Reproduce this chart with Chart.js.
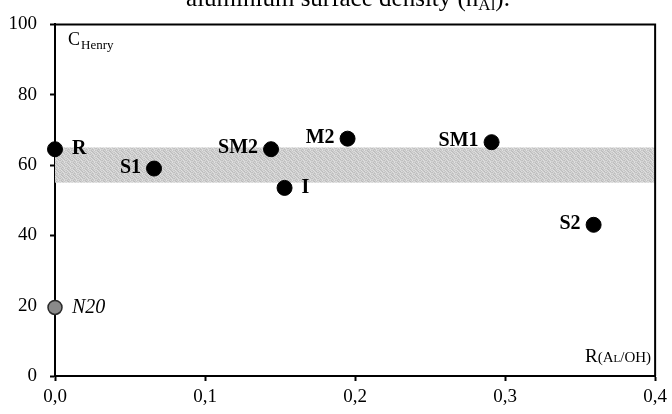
<!DOCTYPE html>
<html>
<head>
<meta charset="utf-8">
<script src="https://cdn.jsdelivr.net/npm/chart.js@4"></script>
<style>
  body { margin: 0; background: #fff; }
  canvas { display: block; }
</style>
</head>
<body>
<canvas id="myChart" width="672" height="414"></canvas>
<script>
// samples: Al/OH ratio against Henry constant
var names = ["R", "S1", "SM2", "I", "M2", "SM1", "S2"];
var ratio = [0, 0.066, 0.144, 0.153, 0.195, 0.291, 0.359];
var cHenry = [64.5, 59, 64.5, 53.5, 67.5, 66.5, 43];
var labelSide = ["right", "left", "left", "right", "left", "left", "left"];

// reference zeolite, drawn grey
var refName = ["N20"];
var refRatio = [0];
var refHenry = [19.5];

// shaded range of C_Henry
var bandRange = [55, 65];

var xTicks = [0, 0.1, 0.2, 0.3, 0.4];
var yTicks = [0, 20, 40, 60, 80, 100];

var serif = "'Liberation Serif', 'Times New Roman', serif";

var samplePoints = [];
for (var i = 0; i < names.length; i++) {
  samplePoints.push({ x: ratio[i], y: cHenry[i] });
}
var refPoints = [];
for (var j = 0; j < refName.length; j++) {
  refPoints.push({ x: refRatio[j], y: refHenry[j] });
}

// grainy grey fill for the band
function bandPattern(ctx) {
  var shades = [
    [205, 190, 215, 200, 225, 195],
    [220, 200, 185, 210, 200, 215],
    [195, 225, 205, 190, 215, 205],
    [210, 195, 220, 205, 185, 220],
    [190, 215, 200, 225, 205, 195],
    [215, 205, 190, 200, 220, 210],
  ];
  var c = document.createElement("canvas");
  c.width = 6;
  c.height = 6;
  var g = c.getContext("2d");
  for (var r = 0; r < 6; r++) {
    for (var k = 0; k < 6; k++) {
      var s = shades[r][k];
      g.fillStyle = "rgb(" + s + "," + s + "," + s + ")";
      g.fillRect(k, r, 1, 1);
    }
  }
  return ctx.createPattern(c, "repeat");
}

const bandPlugin = {
  id: "band",
  beforeDatasetsDraw(chart) {
    const ctx = chart.ctx;
    const xs = chart.scales.x;
    const ys = chart.scales.y;
    const top = ys.getPixelForValue(bandRange[1]);
    const bottom = ys.getPixelForValue(bandRange[0]);
    ctx.save();
    ctx.fillStyle = bandPattern(ctx);
    ctx.fillRect(xs.left, top, xs.right - xs.left, bottom - top);

    // top and right edges of the frame
    ctx.strokeStyle = "#000";
    ctx.lineWidth = 2;
    ctx.beginPath();
    ctx.moveTo(xs.left, ys.top);
    ctx.lineTo(xs.right, ys.top);
    ctx.lineTo(xs.right, ys.bottom);
    ctx.stroke();
    ctx.restore();
  },
};

const textPlugin = {
  id: "texts",
  afterDatasetsDraw(chart) {
    const ctx = chart.ctx;
    const xs = chart.scales.x;
    const ys = chart.scales.y;
    ctx.save();
    ctx.fillStyle = "#000";
    ctx.textBaseline = "middle";

    // sample names next to their dots
    ctx.font = "bold 20px " + serif;
    for (var i = 0; i < names.length; i++) {
      var px = xs.getPixelForValue(ratio[i]);
      var py = ys.getPixelForValue(cHenry[i]);
      if (labelSide[i] === "right") {
        ctx.textAlign = "left";
        ctx.fillText(names[i], px + 17, py);
      } else {
        ctx.textAlign = "right";
        ctx.fillText(names[i], px - 13, py - 1);
      }
    }
    ctx.font = "italic 20px " + serif;
    ctx.textAlign = "left";
    for (var j = 0; j < refName.length; j++) {
      ctx.fillText(refName[j], xs.getPixelForValue(refRatio[j]) + 17, ys.getPixelForValue(refHenry[j]));
    }

    // axis names inside the frame
    ctx.textBaseline = "alphabetic";
    ctx.textAlign = "left";
    ctx.font = "18px " + serif;
    ctx.fillText("C", 68, 45);
    ctx.font = "13px " + serif;
    ctx.fillText("Henry", 81, 49);

    ctx.font = "19px " + serif;
    ctx.fillText("R", 585, 362);
    var rw = ctx.measureText("R").width;
    ctx.font = "small-caps 15px " + serif;
    ctx.fillText("(Al/OH)", 585 + rw, 362);

    // caption line running off the top edge
    ctx.font = "25px " + serif;
    var t1 = "aluminium surface density (n";
    var t2 = "Al";
    var t3 = ").";
    var w1 = ctx.measureText(t1).width;
    var w3 = ctx.measureText(t3).width;
    ctx.font = "17px " + serif;
    var w2 = ctx.measureText(t2).width;
    var x0 = 348 - (w1 + w2 + w3) / 2;
    ctx.font = "25px " + serif;
    ctx.fillText(t1, x0, 6);
    ctx.font = "17px " + serif;
    ctx.fillText(t2, x0 + w1, 10);
    ctx.font = "25px " + serif;
    ctx.fillText(t3, x0 + w1 + w2, 6);
    ctx.restore();
  },
};

const data = {
  datasets: [
    {
      data: samplePoints,
      backgroundColor: "#000",
      borderColor: "#000",
      pointRadius: 7.5,
      pointHoverRadius: 7.5,
      clip: false,
    },
    {
      data: refPoints,
      backgroundColor: "#8a8a8a",
      borderColor: "#2a2a2a",
      borderWidth: 1.5,
      pointRadius: 7,
      pointHoverRadius: 7,
      clip: false,
    },
  ],
};

const config = {
  type: "scatter",
  data: data,
  plugins: [bandPlugin, textPlugin],
  options: {
    responsive: false,
    animation: false,
    layout: {
      padding: { top: 22, right: 0, left: 0, bottom: 0 },
    },
    scales: {
      x: {
        type: "linear",
        min: 0,
        max: 0.4,
        afterBuildTicks: function (scale) {
          scale.ticks = xTicks.map(function (v) { return { value: v }; });
        },
        afterFit: function (scale) {
          scale.height = 38;
        },
        grid: {
          drawOnChartArea: false,
          drawTicks: true,
          tickLength: 5,
          tickColor: "#000",
          tickWidth: 2,
        },
        border: { display: true, color: "#000", width: 2 },
        ticks: {
          color: "#000",
          padding: 5,
          maxRotation: 0,
          font: { family: serif, size: 19 },
          callback: function (value) {
            return Number(value).toFixed(1).replace(".", ",");
          },
        },
      },
      y: {
        type: "linear",
        min: 0,
        max: 100,
        afterBuildTicks: function (scale) {
          scale.ticks = yTicks.map(function (v) { return { value: v }; });
        },
        afterFit: function (scale) {
          scale.width = 55;
        },
        grid: {
          drawOnChartArea: false,
          drawTicks: true,
          tickLength: 5,
          tickColor: "#000",
          tickWidth: 2,
        },
        border: { display: true, color: "#000", width: 2 },
        ticks: {
          color: "#000",
          padding: 13,
          font: { family: serif, size: 19 },
        },
      },
    },
    plugins: {
      legend: { display: false },
      tooltip: { enabled: false },
    },
  },
};

const myChart = new Chart(document.getElementById("myChart"), config);
</script>
</body>
</html>
